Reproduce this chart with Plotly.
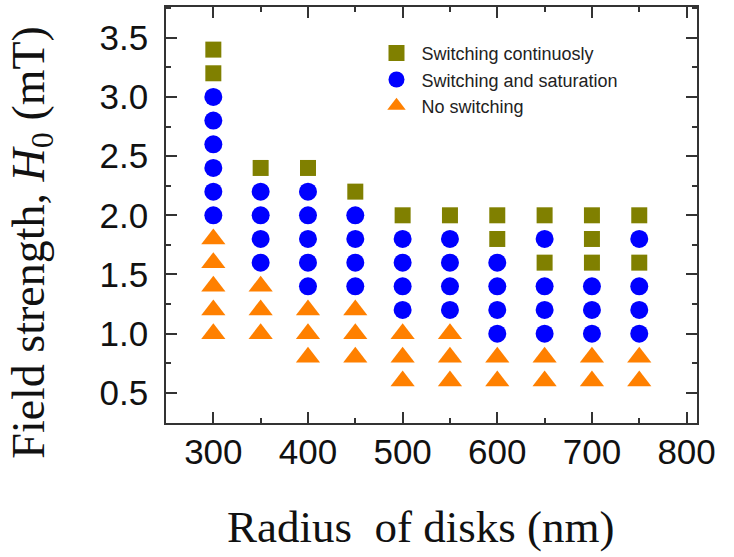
import plotly.graph_objects as go

# Radius of disks (nm) and field strength H0 (mT) for each regime
cont_x = [300, 300, 350, 400, 450, 500, 550, 600, 600, 650, 650, 700, 700, 700, 750, 750]
cont_y = [3.4, 3.2, 2.4, 2.4, 2.2, 2.0, 2.0, 2.0, 1.8, 2.0, 1.6, 2.0, 1.8, 1.6, 2.0, 1.6]

sat_x = ([300] * 6 + [350] * 4 + [400] * 5 + [450] * 4 + [500] * 4 + [550] * 4
         + [600] * 4 + [650] * 4 + [700] * 3 + [750] * 4)
sat_y = ([3.0, 2.8, 2.6, 2.4, 2.2, 2.0]
         + [2.2, 2.0, 1.8, 1.6]
         + [2.2, 2.0, 1.8, 1.6, 1.4]
         + [2.0, 1.8, 1.6, 1.4]
         + [1.8, 1.6, 1.4, 1.2]
         + [1.8, 1.6, 1.4, 1.2]
         + [1.6, 1.4, 1.2, 1.0]
         + [1.8, 1.4, 1.2, 1.0]
         + [1.4, 1.2, 1.0]
         + [1.8, 1.4, 1.2, 1.0])

no_x = ([300] * 5 + [350] * 3 + [400] * 3 + [450] * 3 + [500] * 3 + [550] * 3
        + [600] * 2 + [650] * 2 + [700] * 2 + [750] * 2)
no_y = ([1.8, 1.6, 1.4, 1.2, 1.0]
        + [1.4, 1.2, 1.0]
        + [1.2, 1.0, 0.8]
        + [1.2, 1.0, 0.8]
        + [1.0, 0.8, 0.6]
        + [1.0, 0.8, 0.6]
        + [0.8, 0.6]
        + [0.8, 0.6]
        + [0.8, 0.6]
        + [0.8, 0.6])

x_ticks = [300, 400, 500, 600, 700, 800]
y_ticks = [0.5, 1.0, 1.5, 2.0, 2.5, 3.0, 3.5]

x_title = "Radius  of disks (nm)"
y_title = "Field strength, <i>H</i><sub>0</sub> (mT)"

fig = go.Figure()
fig.add_trace(go.Scatter(x=cont_x, y=cont_y, mode="markers", name="Switching continuosly",
                         marker=dict(symbol="square", size=16, color="#808000")))
fig.add_trace(go.Scatter(x=sat_x, y=sat_y, mode="markers", name="Switching and saturation",
                         marker=dict(symbol="circle", size=18, color="#0000FF")))
fig.add_trace(go.Scatter(x=no_x, y=no_y, mode="markers", name="No switching",
                         marker=dict(symbol="triangle-up", size=21, color="#FF8000")))

axis_common = dict(
    showline=True, linecolor="#333333", linewidth=1.5, mirror="allticks",
    ticks="inside", ticklen=11, tickwidth=1.5, tickcolor="#333333",
    showgrid=False, zeroline=False,
    tickfont=dict(family="Liberation Sans, Arial", size=35, color="#111111"),
)

fig.update_xaxes(
    range=[250, 811], tickvals=x_ticks, ticktext=[str(v) for v in x_ticks],
    minor=dict(dtick=50, tick0=0, ticks="inside", ticklen=5, tickwidth=1.5, tickcolor="#333333"),
    ticklabelstandoff=-3,
    **axis_common,
)
fig.update_yaxes(
    range=[0.245, 3.76], tickvals=y_ticks, ticktext=[f"{v:.1f}" for v in y_ticks],
    minor=dict(dtick=0.25, tick0=0, ticks="inside", ticklen=5, tickwidth=1.5, tickcolor="#333333"),
    ticklabelstandoff=9,
    **axis_common,
)

fig.add_annotation(text=x_title, xref="paper", yref="paper", x=0.48, y=-0.25,
                   xanchor="center", yanchor="middle", showarrow=False,
                   font=dict(family="Liberation Serif, Times New Roman", size=45, color="#111111"))
fig.add_annotation(text=y_title, xref="paper", yref="paper", x=-0.253, y=0.435,
                   xanchor="center", yanchor="middle", showarrow=False, textangle=-90,
                   font=dict(family="Liberation Serif, Times New Roman", size=46, color="#111111"))

fig.update_layout(
    width=734, height=557,
    margin=dict(l=166, r=37, t=5, b=134),
    plot_bgcolor="white", paper_bgcolor="white",
    showlegend=True,
    legend=dict(x=0.387, y=0.933, xanchor="left", yanchor="top",
                bgcolor="rgba(0,0,0,0)", itemwidth=40, tracegroupgap=0,
                font=dict(family="Liberation Sans, Arial", size=18, color="#222222")),
)

fig.write_html("out.html")
